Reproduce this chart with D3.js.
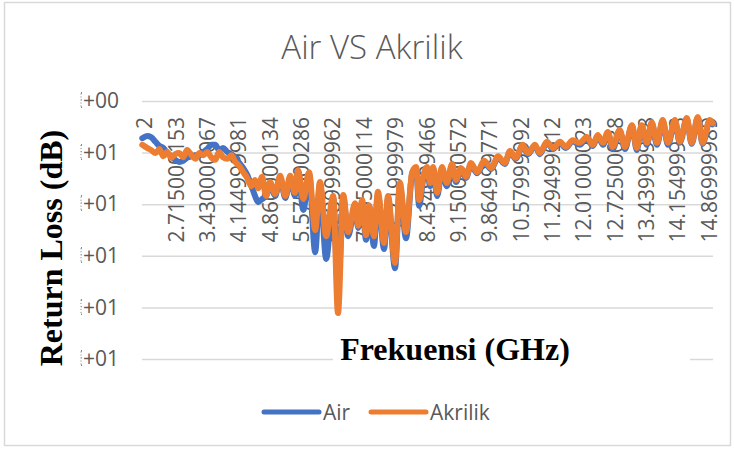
<!doctype html>
<html lang="en">
  <head>
    <meta charset="utf-8">
    <title>Air VS Akrilik</title>
    <script src="https://d3js.org/d3.v7.min.js"></script>
    <style>
      body { margin: 0; background: #fff; }
      text { font-family: "Open Sans", sans-serif; fill: #595959; }
      .grid line { stroke: #d9d9d9; stroke-width: 1.5; }
      .grid path { display: none; }
      .serif { font-family: "Liberation Serif", "Times New Roman", serif; font-weight: bold; fill: #000; }
    </style>
  </head>
  <body>
    <div id="chart"></div>
    <script>
      // frequency (GHz) at points
      const freqGHz = [
        2.00, 2.11, 2.20, 2.30, 2.39, 2.48, 2.57, 2.66, 2.75, 2.84, 2.93, 3.02, 3.12, 3.21, 3.30, 3.39,
        3.48, 3.57, 3.66, 3.75, 3.84, 3.94, 4.03, 4.12, 4.21, 4.30, 4.39, 4.48, 4.57, 4.64, 4.73, 4.82,
        4.91, 5.03, 5.14, 5.26, 5.37, 5.48, 5.55, 5.67, 5.80, 5.94, 6.05, 6.19, 6.35, 6.46, 6.58, 6.69,
        6.85, 6.92, 7.01, 7.10, 7.17, 7.28, 7.37, 7.51, 7.60, 7.76, 7.87, 8.01, 8.15, 8.24, 8.31, 8.40,
        8.49, 8.56, 8.63, 8.72, 8.83, 8.94, 9.06, 9.15, 9.26, 9.38, 9.49, 9.63, 9.79, 9.95, 10.11, 10.26,
        10.38, 10.51, 10.67, 10.79, 10.95, 11.06, 11.22, 11.36, 11.52, 11.65, 11.81, 11.97, 12.13, 12.27, 12.38, 12.50,
        12.61, 12.72, 12.88, 13.00, 13.16, 13.27, 13.38, 13.50, 13.61, 13.73, 13.86, 13.98, 14.14, 14.25, 14.41, 14.52,
        14.66, 14.77, 14.93, 15.00
      ];
      const airDb = [
        -7.2, -6.8, -7.0, -7.9, -8.7, -9.1, -10.1, -10.7, -11.4, -11.8, -11.6, -11.0, -10.7, -10.5, -10.5, -9.9,
        -9.3, -8.5, -8.5, -9.5, -9.1, -9.9, -10.3, -11.0, -12.0, -13.0, -14.3, -16.3, -18.4, -19.6, -19.0, -18.4,
        -16.5, -18.4, -14.9, -18.8, -14.9, -18.4, -13.6, -21.1, -14.1, -29.3, -16.1, -30.6, -18.8, -36.6, -18.6, -26.2,
        -20.3, -24.6, -19.8, -26.9, -20.5, -28.1, -18.2, -28.7, -19.0, -32.4, -16.5, -26.6, -14.1, -13.2, -20.3, -15.3,
        -13.2, -16.5, -13.2, -18.4, -13.4, -16.5, -12.6, -15.7, -13.4, -14.9, -12.4, -14.0, -11.8, -13.2, -11.0, -12.2,
        -9.9, -11.2, -8.7, -10.3, -8.7, -10.3, -8.1, -9.3, -8.1, -9.1, -7.8, -8.5, -7.2, -8.7, -6.8, -8.5,
        -6.2, -9.3, -5.8, -9.3, -4.8, -9.5, -4.8, -8.5, -4.3, -8.5, -3.9, -8.5, -3.9, -8.1, -3.5, -8.3,
        -3.3, -8.3, -3.9, -4.5
      ];
      const akrilikDb = [
        -8.5, -9.1, -9.5, -10.1, -9.3, -10.7, -9.9, -11.0, -10.3, -10.1, -10.9, -9.5, -10.5, -11.2, -10.1, -10.5,
        -9.9, -10.9, -11.4, -9.9, -10.9, -11.2, -10.5, -11.8, -12.6, -13.8, -14.9, -16.5, -15.3, -16.9, -14.7, -18.4,
        -15.7, -18.0, -14.5, -18.4, -14.5, -17.8, -13.4, -19.0, -13.8, -25.0, -15.7, -26.2, -18.4, -41.1, -18.2, -25.4,
        -19.8, -24.2, -19.2, -26.0, -20.2, -26.2, -17.6, -27.5, -18.4, -31.4, -15.9, -25.4, -13.8, -12.8, -19.2, -14.7,
        -12.8, -15.9, -12.8, -17.8, -12.8, -15.9, -12.2, -15.3, -13.0, -14.7, -12.0, -13.8, -11.6, -13.0, -10.7, -12.0,
        -9.7, -11.0, -8.5, -10.1, -8.5, -10.1, -7.9, -9.1, -7.9, -8.9, -7.6, -8.1, -7.0, -8.5, -6.6, -8.1,
        -6.0, -8.9, -5.6, -8.9, -4.7, -9.1, -4.7, -8.1, -4.1, -8.1, -3.7, -8.1, -3.7, -7.9, -3.3, -8.1,
        -3.1, -8.1, -3.7, -4.3
      ];

      const xTickValues = [2, 2.715, 3.43, 4.145, 4.86, 5.575, 6.29, 7.005, 7.72, 8.435,
                           9.15, 9.865, 10.58, 11.295, 12.01, 12.725, 13.44, 14.155, 14.87];
      const xTickLabels = ["2", "2.715000153", "3.430000067", "4.144999981", "4.860000134", "5.575000286",
                           "6.289999962", "7.005000114", "7.71999979", "8.434999466", "9.150000572",
                           "9.864999771", "10.57999992", "11.29499912", "12.01000023", "12.72500038",
                           "13.43999958", "14.15499973", "14.86999989"];
      const yTickValues = [0, -10, -20, -30, -40, -50];
      const yTickLabels = ["0.00E+00", "-1.00E+01", "-2.00E+01", "-3.00E+01", "-4.00E+01", "-5.00E+01"];

      const W = 734, H = 452;
      const plot = {left: 142, right: 713, top: 101, bottom: 359};

      const svg = d3.select("#chart").append("svg")
        .attr("width", W)
        .attr("height", H);

      // chart border
      svg.append("rect")
        .attr("x", 4.5).attr("y", 2.5)
        .attr("width", 726).attr("height", 443)
        .attr("fill", "#fff")
        .attr("stroke", "#d9d9d9")
        .attr("stroke-width", 1.5);

      const x = d3.scaleLinear().domain([2, 15]).range([plot.left + 0.3, plot.right - 0.3]);
      const y = d3.scaleLinear().domain([0, -50]).range([plot.top, plot.bottom]);

      // gridlines
      svg.append("g")
        .attr("class", "grid")
        .attr("transform", `translate(${plot.left},0)`)
        .call(d3.axisLeft(y).tickValues(yTickValues).tickSize(-(plot.right - plot.left)).tickFormat(""));

      // y tick labels, cut on the left like in the original
      svg.append("clipPath").attr("id", "ylab-clip")
        .append("rect").attr("x", 81).attr("y", 0).attr("width", 100).attr("height", H);

      const yAxis = svg.append("g")
        .attr("clip-path", "url(#ylab-clip)")
        .append("g")
        .attr("transform", `translate(${plot.left},0)`)
        .call(d3.axisLeft(y).tickValues(yTickValues).tickSize(0).tickPadding(23)
          .tickFormat((d, i) => yTickLabels[i]));
      yAxis.select(".domain").remove();
      yAxis.selectAll("text").style("font-size", "21px").attr("fill", "#595959");

      svg.append("g").selectAll("line")
        .data(yTickValues)
        .join("line")
          .attr("x1", 81).attr("x2", 81)
          .attr("y1", d => y(d) - 7.5).attr("y2", d => y(d) + 7.5)
          .attr("stroke", "#7f7f7f")
          .attr("stroke-dasharray", "1,2");

      // x tick labels hang down from the zero line
      const xAxis = svg.append("g")
        .attr("transform", `translate(0,${plot.top})`)
        .call(d3.axisBottom(x).tickValues(xTickValues).tickSize(0)
          .tickFormat((d, i) => xTickLabels[i]));
      xAxis.select(".domain").remove();
      xAxis.selectAll("text")
        .style("font-size", "21px")
        .attr("fill", "#595959")
        .attr("transform", "rotate(-90)")
        .attr("text-anchor", "end")
        .attr("x", -16)
        .attr("y", 2)
        .attr("dy", ".35em");

      // axis titles
      svg.append("rect")
        .attr("x", 333).attr("y", 338).attr("width", 357).attr("height", 38)
        .attr("fill", "#fff");
      svg.append("text")
        .attr("class", "serif")
        .attr("x", 455).attr("y", 360)
        .attr("text-anchor", "middle")
        .style("font-size", "32px")
        .text("Frekuensi (GHz)");

      svg.append("text")
        .attr("class", "serif")
        .attr("transform", "translate(62,248) rotate(-90)")
        .attr("text-anchor", "middle")
        .style("font-size", "32px")
        .text("Return Loss (dB)");

      // title
      svg.append("text")
        .attr("x", 372).attr("y", 59)
        .attr("text-anchor", "middle")
        .style("font-size", "33px")
        .style("font-weight", 300)
        .text("Air VS Akrilik");

      // lines
      const line = vals => d3.line()
        .x((d, i) => x(freqGHz[i]))
        .y(d => y(d))
        .curve(d3.curveMonotoneX)(vals);

      const series = [
        {name: "Air", values: airDb, color: "#4472c4"},
        {name: "Akrilik", values: akrilikDb, color: "#ed7d31"}
      ];

      svg.append("g").selectAll("path")
        .data(series)
        .join("path")
          .attr("d", d => line(d.values))
          .attr("fill", "none")
          .attr("stroke", d => d.color)
          .attr("stroke-width", 6)
          .attr("stroke-linejoin", "round")
          .attr("stroke-linecap", "round");

      // legend
      const legendX = [264, 371];
      const legend = svg.append("g").selectAll("g")
        .data(series)
        .join("g")
          .attr("transform", (d, i) => `translate(${legendX[i]},412)`);
      legend.append("line")
        .attr("x1", 0).attr("x2", 55)
        .attr("stroke", d => d.color)
        .attr("stroke-width", 5)
        .attr("stroke-linecap", "round");
      legend.append("text")
        .attr("x", 59).attr("y", 7.5)
        .style("font-size", "21px")
        .text(d => d.name);
    </script>
  </body>
</html>
